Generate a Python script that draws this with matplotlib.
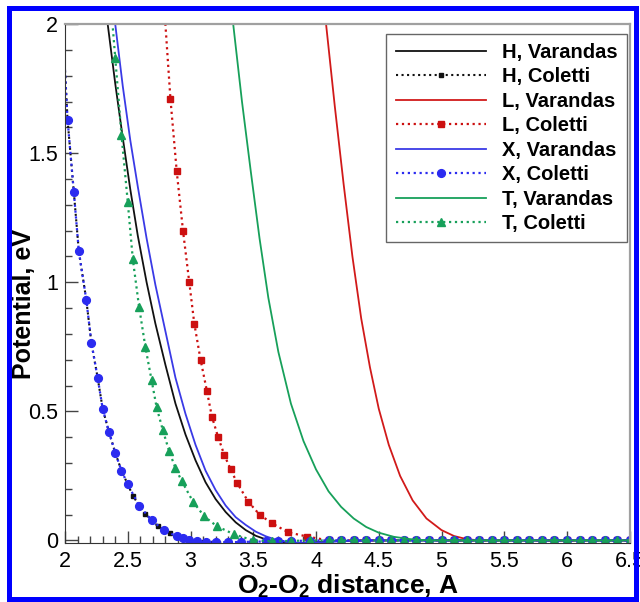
import matplotlib
matplotlib.use("Agg")
import matplotlib.pyplot as plt
from matplotlib.patches import Rectangle
from matplotlib.ticker import MultipleLocator, FuncFormatter

plt.rcParams["font.family"] = ["Liberation Sans", "DejaVu Sans"]
plt.rcParams["mathtext.fontset"] = "custom"
plt.rcParams["mathtext.rm"] = "Liberation Sans"
plt.rcParams["mathtext.bf"] = "Liberation Sans:bold"

# Varandas potentials (smooth curves)
H_VAR_X = [2.34, 2.40, 2.46, 2.52, 2.58, 2.65, 2.72, 2.80, 2.88, 2.96, 3.04, 3.12,
           3.20, 3.28, 3.36, 3.44, 3.52, 3.60, 3.70, 3.80, 3.95, 4.15, 4.40, 5.0, 5.5, 6.0, 6.5]
H_VAR_Y = [2.00, 1.77, 1.56, 1.36, 1.18, 1.00, 0.84, 0.68, 0.53, 0.41, 0.31, 0.225,
           0.16, 0.11, 0.07, 0.04, 0.018, 0.004, -0.008, -0.012, -0.008, -0.003, 0.0, 0.0, 0.0, 0.0, 0.0]

L_VAR_X = [4.08, 4.15, 4.22, 4.29, 4.36, 4.43, 4.50, 4.58, 4.67, 4.77, 4.88, 5.00,
           5.10, 5.20, 5.30, 5.5, 6.0, 6.5]
L_VAR_Y = [2.00, 1.68, 1.38, 1.10, 0.86, 0.67, 0.51, 0.37, 0.25, 0.155, 0.085, 0.04,
           0.017, 0.005, 0.0, 0.0, 0.0, 0.0]

X_VAR_X = [2.40, 2.46, 2.52, 2.58, 2.65, 2.72, 2.80, 2.88, 2.96, 3.04, 3.12, 3.20,
           3.28, 3.36, 3.44, 3.52, 3.60, 3.68, 3.78, 3.90, 4.05, 4.25, 4.50, 5.0, 5.5, 6.0, 6.5]
X_VAR_Y = [2.00, 1.76, 1.55, 1.37, 1.17, 0.99, 0.81, 0.63, 0.49, 0.37, 0.27, 0.195,
           0.135, 0.09, 0.06, 0.034, 0.016, 0.003, -0.007, -0.01, -0.007, -0.002, 0.0, 0.0, 0.0, 0.0, 0.0]

T_VAR_X = [3.34, 3.41, 3.48, 3.55, 3.62, 3.70, 3.80, 3.90, 4.00, 4.10, 4.20, 4.30,
           4.40, 4.50, 4.62, 4.75, 4.90, 5.5, 6.0, 6.5]
T_VAR_Y = [2.00, 1.70, 1.43, 1.17, 0.94, 0.73, 0.53, 0.385, 0.275, 0.19, 0.13, 0.085,
           0.052, 0.03, 0.014, 0.005, 0.0, 0.0, 0.0, 0.0]

# Coletti points (symbols); the long flat tail near zero is shared
TAIL_X = [4.10, 4.20, 4.30, 4.40, 4.50, 4.60, 4.70, 4.80, 4.90, 5.00, 5.10, 5.20,
          5.30, 5.40, 5.50, 5.60, 5.70, 5.80, 5.90, 6.00, 6.10, 6.20, 6.30, 6.40, 6.50]
TAIL_Y = [0.0, 0.0, 0.0, 0.0, 0.0, 0.0, 0.0, 0.0, 0.0, 0.0, 0.0, 0.0,
          0.0, 0.0, 0.0, 0.0, 0.0, 0.0, 0.0, 0.0, 0.0, 0.0, 0.0, 0.0, 0.0]

H_COL_X = [1.97, 2.02, 2.07, 2.11, 2.17, 2.21, 2.26, 2.30, 2.35, 2.40, 2.45, 2.50,
           2.54, 2.59, 2.64, 2.69, 2.74, 2.79, 2.84, 2.89, 2.94, 3.04, 3.11, 3.18, 3.22]
H_COL_Y = [2.10, 1.63, 1.35, 1.12, 0.93, 0.766, 0.63, 0.51, 0.42, 0.34, 0.27, 0.217,
           0.174, 0.135, 0.104, 0.078, 0.055, 0.039, 0.027, 0.016, 0.008, -0.005, -0.008, -0.01, -0.01]

L_COL_X = [2.79, 2.84, 2.89, 2.94, 2.99, 3.03, 3.08, 3.13, 3.17, 3.22, 3.27, 3.32,
           3.37, 3.46, 3.55, 3.65, 3.78, 3.93]
L_COL_Y = [2.07, 1.71, 1.43, 1.20, 1.00, 0.84, 0.70, 0.58, 0.48, 0.40, 0.33, 0.275,
           0.224, 0.15, 0.10, 0.066, 0.031, 0.015]

X_COL_X = [1.97, 2.02, 2.07, 2.11, 2.17, 2.21, 2.26, 2.30, 2.35, 2.40, 2.45, 2.50,
           2.59, 2.69, 2.79, 2.89, 2.94, 2.99, 3.05, 3.12, 3.20, 3.30, 3.40, 3.50,
           3.60, 3.70, 3.80, 3.95]
X_COL_Y = [2.10, 1.63, 1.35, 1.12, 0.93, 0.766, 0.63, 0.51, 0.42, 0.34, 0.27, 0.217,
           0.135, 0.078, 0.039, 0.016, 0.009, 0.003, -0.003, -0.005, -0.006, -0.007, -0.006, -0.005,
           -0.004, -0.003, -0.002, -0.001]

T_COL_X = [2.35, 2.40, 2.45, 2.50, 2.54, 2.59, 2.64, 2.69, 2.73, 2.78, 2.83, 2.88,
           2.93, 3.02, 3.11, 3.21, 3.35, 3.50, 3.65, 3.80, 3.95]
T_COL_Y = [2.17, 1.87, 1.57, 1.31, 1.09, 0.905, 0.75, 0.62, 0.515, 0.426, 0.345, 0.28,
           0.23, 0.15, 0.093, 0.055, 0.023, 0.0, -0.003, -0.002, 0.0]

BLACK = "#111111"
RED = "#d11a1a"
BLUE = "#3a3ae6"
GREEN = "#17a05a"

fig = plt.figure(figsize=(6.4, 6.02), dpi=100)
ax = fig.add_axes([0.1016, 0.098, 0.8824, 0.862])

lw = 1.3
ax.plot(H_VAR_X, H_VAR_Y, color=BLACK, lw=lw, label="H, Varandas")
ax.plot(H_COL_X, H_COL_Y, color=BLACK, lw=1.5, ls=":", marker="s", ms=3.2,
        label="H, Coletti")
ax.plot(L_VAR_X, L_VAR_Y, color=RED, lw=lw, label="L, Varandas")
ax.plot(L_COL_X + TAIL_X, L_COL_Y + TAIL_Y, color="#cc1010", lw=1.6, ls=":",
        marker="s", ms=4.8, label="L, Coletti")
ax.plot(X_VAR_X, X_VAR_Y, color=BLUE, lw=lw, label="X, Varandas")
ax.plot(X_COL_X + TAIL_X, X_COL_Y + TAIL_Y, color="#2b2bf0", lw=1.6, ls=":",
        marker="o", ms=5.6, label="X, Coletti")
ax.plot(T_VAR_X, T_VAR_Y, color=GREEN, lw=lw, label="T, Varandas")
ax.plot(T_COL_X + TAIL_X, T_COL_Y + TAIL_Y, color=GREEN, lw=1.6, ls=":",
        marker="^", ms=5.4, label="T, Coletti")

ax.set_xlim(2, 6.5)
ax.set_ylim(-0.01, 2)

fmt = FuncFormatter(lambda v, p: f"{v:g}")
ax.xaxis.set_major_locator(MultipleLocator(0.5))
ax.xaxis.set_minor_locator(MultipleLocator(0.1))
ax.yaxis.set_major_locator(MultipleLocator(0.5))
ax.yaxis.set_minor_locator(MultipleLocator(0.1))
ax.xaxis.set_major_formatter(fmt)
ax.yaxis.set_major_formatter(fmt)
ax.tick_params(which="both", direction="in", top=False, right=False,
               color="#444444", width=1, labelsize=15.5)
ax.tick_params(which="major", length=9)
ax.tick_params(which="minor", length=5)
ax.tick_params(axis="x", which="major", pad=6)
ax.tick_params(axis="y", which="major", pad=5)

for side in ("left", "bottom"):
    ax.spines[side].set_color("#333333")
for side in ("top", "right"):
    ax.spines[side].set_color("#a0a0a0")
    ax.spines[side].set_linewidth(1.6)

ax.set_xlabel(r"O$_\mathbf{2}$-O$_\mathbf{2}$ distance, A", fontsize=19,
              fontweight="bold", labelpad=0)
ax.set_ylabel("Potential, eV", fontsize=18, fontweight="bold")
# the label sits between the tick labels, as in the original
ax.yaxis.set_label_coords(-0.052, 0.46)

leg = ax.legend(loc="upper right", bbox_to_anchor=(0.995, 0.981), borderaxespad=0,
                prop={"size": 14.5, "weight": "bold"}, handlelength=4.5,
                handletextpad=0.8, labelspacing=0.27, numpoints=1,
                fancybox=False, framealpha=1, borderpad=0.45)
leg.get_frame().set_edgecolor("#666666")
leg.get_frame().set_linewidth(1.0)

# blue frame round the whole picture
fig.patches.append(Rectangle((0.0148, 0.0058), 0.9797, 0.9801, transform=fig.transFigure,
                             fill=False, edgecolor="#0000ff", linewidth=3.6))

fig.savefig("out.png", dpi=100)
